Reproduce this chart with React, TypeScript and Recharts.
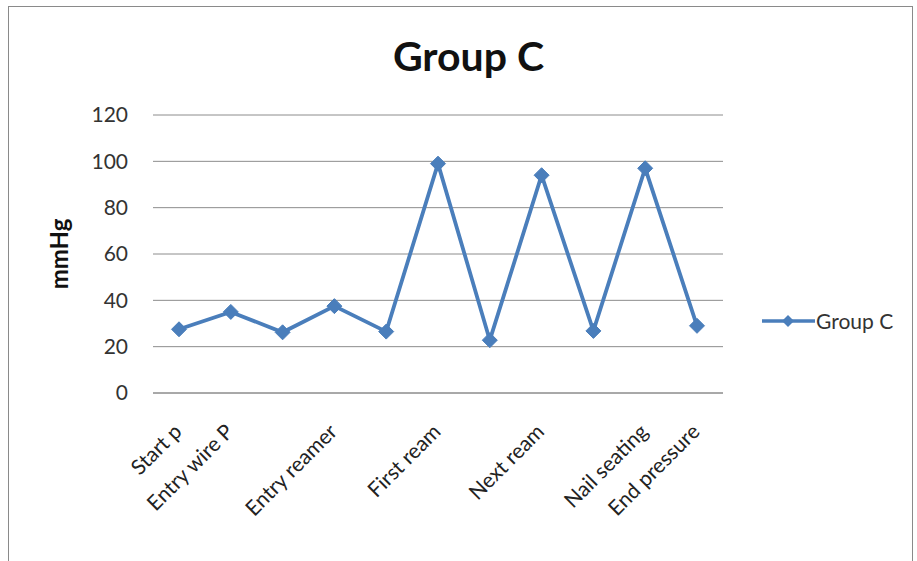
import React from 'react';
import { LineChart, Line, XAxis, YAxis, CartesianGrid } from 'recharts';

const categories = ['Start p', 'Entry wire P', '', 'Entry reamer', '', 'First ream', '', 'Next ream', '', 'Nail seating', 'End pressure'];
const groupC = [27.5, 35, 26.2, 37.5, 26.5, 99, 22.8, 94, 26.8, 97, 29];
const yTicks = [0, 20, 40, 60, 80, 100, 120];

const data = categories.map((name, i) => ({ name: name || `_${i}`, value: groupC[i] }));

const FONT = 'Lato, "Open Sans", sans-serif';
const BLUE = '#4A7EBB';

const Diamond = (props: any) => {
  const { cx, cy } = props;
  if (cx == null || cy == null) return null;
  const r = 7.5;
  return <path d={`M${cx},${cy - r}L${cx + r},${cy}L${cx},${cy + r}L${cx - r},${cy}Z`} fill={BLUE} stroke={BLUE} strokeWidth={1} />;
};

const XTick = (props: any) => {
  const { x, y, payload } = props;
  const txt = payload.value.startsWith('_') ? '' : payload.value;
  const ax = x + 4;
  const ay = y + 32;
  return (
    <text x={ax} y={ay} transform={`rotate(-45, ${ax}, ${ay})`} textAnchor="end" fill="#222" fontSize={21} fontFamily={FONT}>
      {txt}
    </text>
  );
};

export default function App() {
  return (
    <div style={{ position: 'absolute', left: 0, top: 0, width: 917, height: 561, background: '#fff', overflow: 'hidden' }}>
      <div style={{ position: 'absolute', left: 8, top: 6, width: 903, height: 600, border: '1.5px solid #8a8a8a' }} />
      <div style={{ position: 'absolute', left: 0, width: 937, top: 31, textAlign: 'center', fontFamily: FONT, fontWeight: 700, fontSize: 41, color: '#111' }}>
        Group C
      </div>
      <div style={{ position: 'absolute', left: 760, top: 308, display: 'flex', alignItems: 'center', fontFamily: FONT, fontSize: 21, color: '#333' }}>
        <svg width={56} height={18}>
          <line x1={2} y1={9} x2={55} y2={9} stroke={BLUE} strokeWidth={3.5} />
          <path d="M28,3L34,9L28,15L22,9Z" fill={BLUE} />
        </svg>
        <span>Group C</span>
      </div>
      <div style={{ position: 'absolute', left: 0, top: 0 }}>
        <LineChart width={917} height={561} data={data} margin={{ top: 115, right: 194, bottom: 0, left: 0 }}>
          <CartesianGrid horizontal vertical={false} stroke="#8c8c8c" strokeWidth={1} />
          <XAxis
            dataKey="name"
            interval={0}
            height={168}
            padding={{ left: 26, right: 26 }}
            axisLine={{ stroke: '#8c8c8c' }}
            tickLine={false}
            tick={<XTick />}
          />
          <YAxis
            domain={[0, 120]}
            ticks={yTicks}
            width={153}
            axisLine={false}
            tickLine={false}
            tickSize={0}
            tickMargin={25}
            tick={{ fill: '#333', fontSize: 21, fontFamily: FONT }}
            label={{ value: 'mmHg', angle: -90, position: 'center', dx: -17, style: { fontFamily: FONT, fontWeight: 700, fontSize: 24, fill: '#111' } }}
          />
          <Line
            dataKey="value"
            name="Group C"
            stroke={BLUE}
            strokeWidth={3.8}
            dot={<Diamond />}
            activeDot={false}
            isAnimationActive={false}
          />
        </LineChart>
      </div>
    </div>
  );
}
